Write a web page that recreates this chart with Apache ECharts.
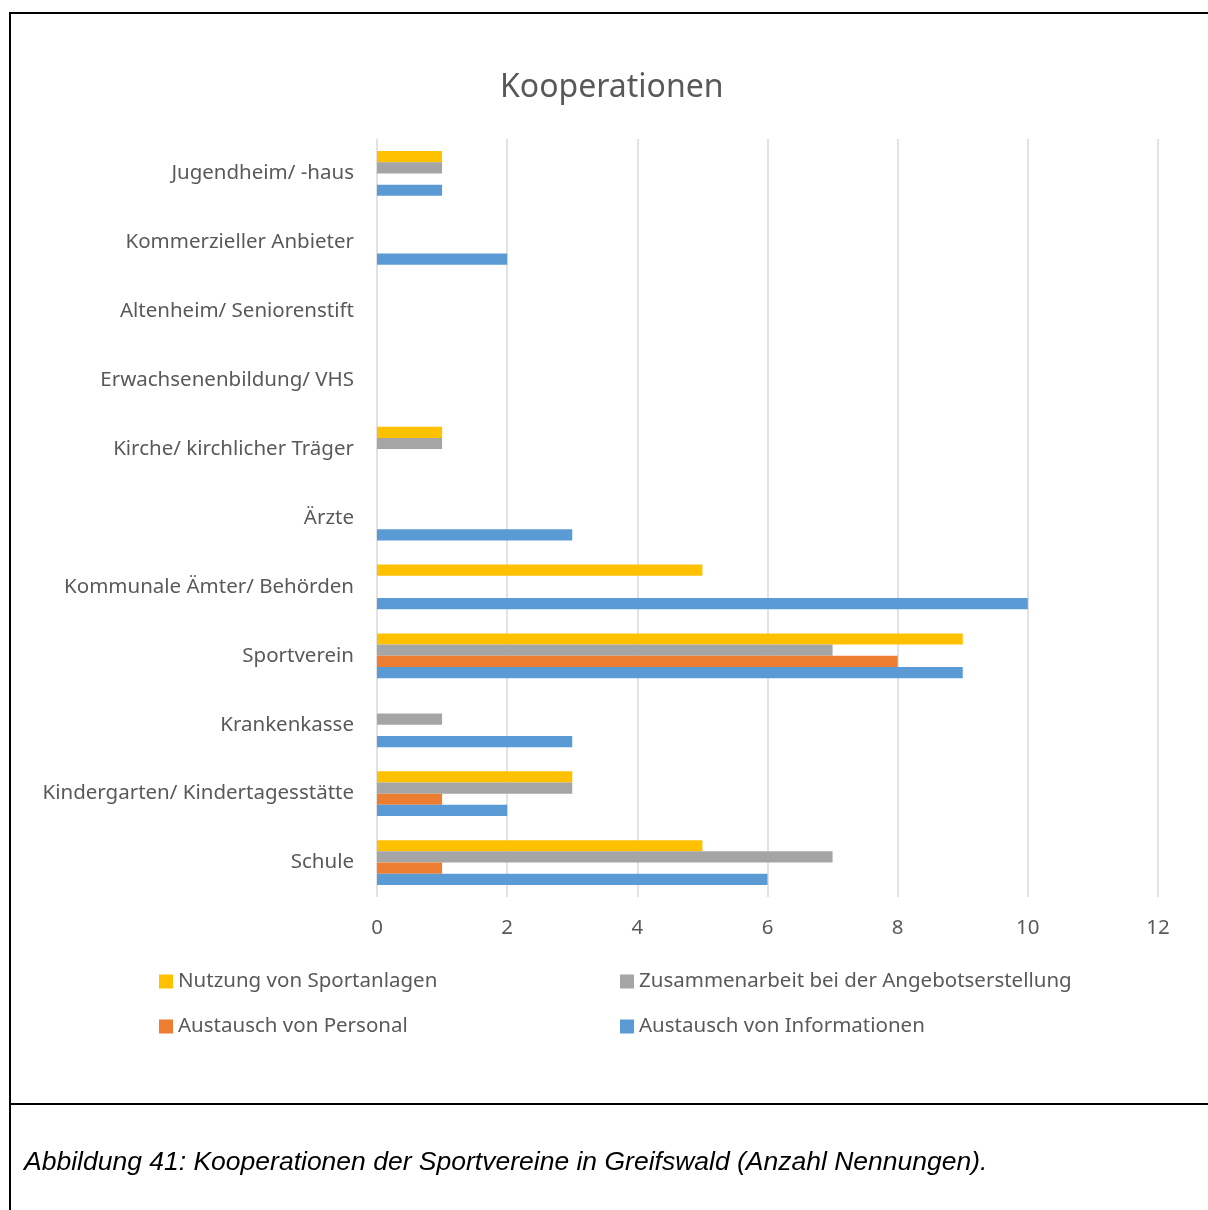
<!DOCTYPE html>
<html>
<head>
<meta charset="utf-8">
<script src="https://cdn.jsdelivr.net/npm/echarts@6/dist/echarts.min.js"></script>
<style>
html,body{margin:0;padding:0;background:#fff;}
#c{width:1208px;height:1210px;}
</style>
</head>
<body>
<div id="c"></div>
<script>
// Categories listed bottom to top
const categories = [
  "Schule",
  "Kindergarten/ Kindertagesstätte",
  "Krankenkasse",
  "Sportverein",
  "Kommunale Ämter/ Behörden",
  "Ärzte",
  "Kirche/ kirchlicher Träger",
  "Erwachsenenbildung/ VHS",
  "Altenheim/ Seniorenstift",
  "Kommerzieller Anbieter",
  "Jugendheim/ -haus"
];
const seriesNames = [
  "Nutzung von Sportanlagen",
  "Zusammenarbeit bei der Angebotserstellung",
  "Austausch von Personal",
  "Austausch von Informationen"
];
const nutzung   = [5, 3, 0, 9, 5, 0, 1, 0, 0, 0, 1];
const zusammen  = [7, 3, 1, 7, 0, 0, 1, 0, 0, 0, 1];
const personal  = [1, 1, 0, 8, 0, 0, 0, 0, 0, 0, 0];
const info      = [6, 2, 3, 9, 10, 3, 0, 0, 0, 2, 1];
const xTicks = [0, 2, 4, 6, 8, 10, 12];

const colors = ["#FFC000", "#A5A5A5", "#ED7D31", "#5B9BD5"];
const values = [nutzung, zusammen, personal, info];
const txt = "#595959";
const font = "Noto Sans";

const chart = echarts.init(document.getElementById('c'), null, {renderer: 'canvas'});

const legendPos = [[159, 971], [620, 971], [159, 1016], [620, 1016]];

const option = {
  animation: false,
  backgroundColor: '#fff',
  title: {
    text: 'Kooperationen',
    left: 500,
    top: 72,
    padding: 0,
    textStyle: {color: txt, fontSize: 32, fontWeight: 'normal', fontFamily: font}
  },
  legend: seriesNames.map((n, i) => ({
    data: [n],
    left: legendPos[i][0],
    top: legendPos[i][1],
    itemWidth: 14,
    itemHeight: 14,
    itemGap: 0,
    padding: 0,
    icon: 'rect',
    textStyle: {color: txt, fontSize: 20.5, fontFamily: font}
  })),
  grid: {left: 377, right: 50, top: 139, bottom: 313, containLabel: false},
  xAxis: {
    type: 'value',
    min: xTicks[0],
    max: xTicks[xTicks.length - 1],
    interval: 2,
    axisLine: {show: false},
    axisTick: {show: false},
    splitLine: {show: true, lineStyle: {color: '#D9D9D9', width: 1.5}},
    axisLabel: {color: txt, fontSize: 20.5, fontFamily: font, margin: 21}
  },
  yAxis: {
    type: 'category',
    data: categories,
    axisLine: {show: false},
    axisTick: {show: false},
    axisLabel: {color: txt, fontSize: 20.5, fontFamily: font, margin: 23}
  },
  graphic: [
    {type: 'line', shape: {x1: 10, y1: 13, x2: 1208, y2: 13}, style: {stroke: '#000', lineWidth: 2}},
    {type: 'line', shape: {x1: 10, y1: 12, x2: 10, y2: 1210}, style: {stroke: '#000', lineWidth: 2}},
    {type: 'line', shape: {x1: 10, y1: 1104, x2: 1208, y2: 1104}, style: {stroke: '#000', lineWidth: 2}},
    {type: 'text', left: 24, top: 1149, style: {
      text: 'Abbildung 41: Kooperationen der Sportvereine in Greifswald (Anzahl Nennungen).',
      fill: '#000', font: 'italic 26.5px "Liberation Sans", Arial, sans-serif'
    }}
  ],
  series: seriesNames.map((n, i) => ({
    name: n,
    type: 'bar',
    data: values[i],
    itemStyle: {color: colors[i]},
    barWidth: 11.2,
    barGap: '0%',
    barCategoryGap: '35%'
  }))
};
chart.setOption(option);
</script>
</body>
</html>
